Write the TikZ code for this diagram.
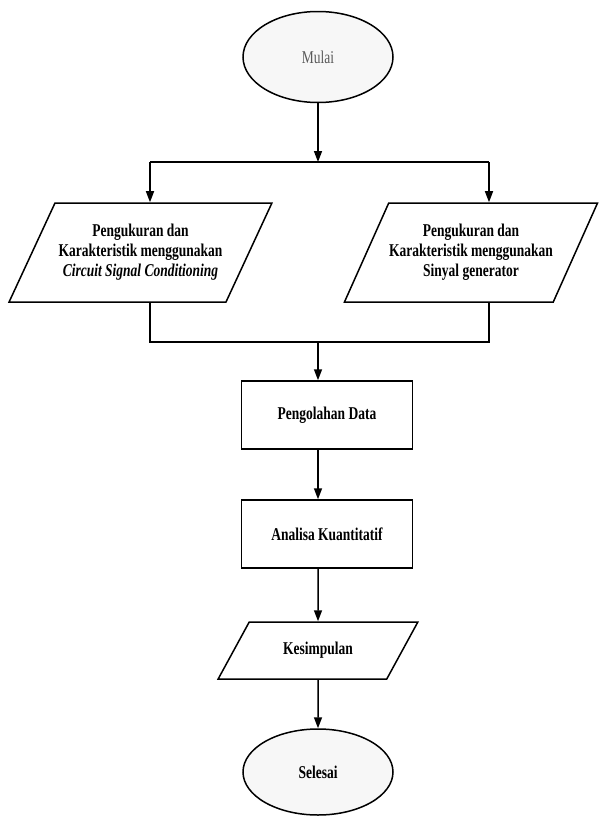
\documentclass[tikz,border=0pt]{standalone}
\usepackage{fontspec}
\setmainfont{Liberation Serif}[FakeStretch=0.75]
\usetikzlibrary{shapes.geometric,arrows.meta}

\begin{document}
\begin{tikzpicture}[
        x=1pt, y=-1pt,
        every node/.style={font=\fontsize{18}{20}\selectfont},
        terminal/.style={ellipse, draw, line width=1.5pt, fill=black!3, minimum width=150pt, minimum height=91pt, inner sep=0pt},
        io/.style={trapezium, trapezium left angle=52, trapezium right angle=128, trapezium stretches=true, draw, line width=1.5pt, inner sep=0pt, align=center, font=\fontsize{18}{20}\selectfont\bfseries},
        process/.style={rectangle, draw, line width=1.5pt, minimum width=171pt, minimum height=68pt, font=\fontsize{18}{20}\selectfont\bfseries},
        flow/.style={line width=1.5pt, -{Triangle[length=11pt,width=8pt]}},
        joint/.style={line width=1.5pt}
    ]
        \useasboundingbox (0,0) rectangle (599,817);

        % Mulai
        \node[terminal, text=black!65] (mulai) at (318,57) {Mulai};
        \coordinate (cabang) at (318,162);
        \coordinate (cabang_kiri) at (150,162);
        \coordinate (cabang_kanan) at (489,162);

        % two measurements
        \node[io, minimum width=263pt, minimum height=99pt] (ukur_kiri) at (140.5,252.5) {Pengukuran dan\\Karakteristik menggunakan\\\textit{Circuit Signal Conditioning}};
        \node[io, minimum width=254pt, minimum height=99pt] (ukur_kanan) at (471,252.5) {Pengukuran dan\\Karakteristik menggunakan\\Sinyal generator};
        \coordinate (gabung) at (318,342);
        \coordinate (gabung_kiri) at (150,342);
        \coordinate (gabung_kanan) at (489,342);

        % processing
        \node[process] (olah) at (327,415) {Pengolahan Data};
        \node[process] (analisa) at (327,534) {Analisa Kuantitatif};
        \node[io, trapezium left angle=46, trapezium right angle=134, minimum width=200pt, minimum height=57pt] (simpul) at (318,650.5) {Kesimpulan};

        % Selesai
        \node[terminal, minimum height=86pt, font=\fontsize{18}{20}\selectfont\bfseries] (selesai) at (318,772) {Selesai};

        \draw[flow] (mulai) -- (cabang);
        \draw[joint] (cabang_kiri) -- (cabang_kanan);
        \draw[flow] (cabang_kiri) -- (cabang_kiri |- ukur_kiri.north);
        \draw[flow] (cabang_kanan) -- (cabang_kanan |- ukur_kanan.north);
        \draw[joint] (ukur_kiri.south -| gabung_kiri) -- (gabung_kiri) -- (gabung_kanan) -- (ukur_kanan.south -| gabung_kanan);
        \draw[flow] (gabung) -- (olah.north -| gabung);
        \draw[flow] (olah.south -| gabung) -- (analisa.north -| gabung);
        \draw[flow] (analisa.south -| gabung) -- (simpul);
        \draw[flow] (simpul) -- (selesai);
    \end{tikzpicture}
\end{document}
